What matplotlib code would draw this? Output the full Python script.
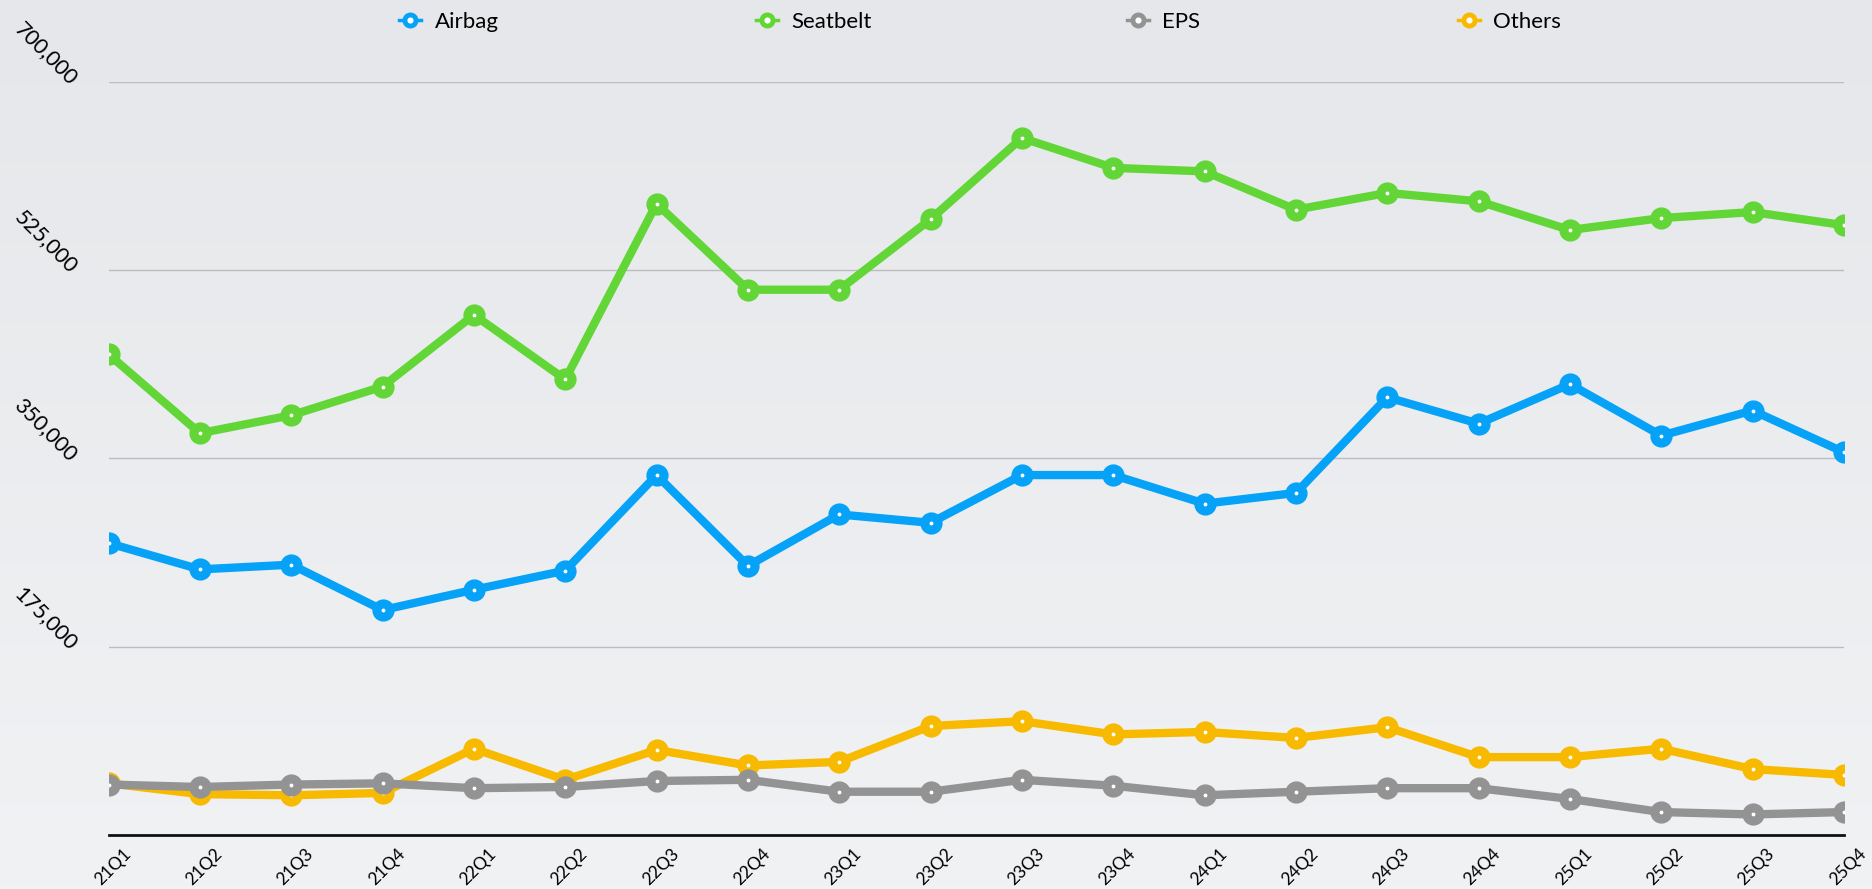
import numpy as np
import matplotlib.pyplot as plt
from matplotlib.lines import Line2D
from matplotlib.colors import LinearSegmentedColormap
from matplotlib.transforms import ScaledTranslation

plt.rcParams['font.family'] = ['Lato', 'DejaVu Sans']

quarters = ['21Q1', '21Q2', '21Q3', '21Q4', '22Q1', '22Q2', '22Q3', '22Q4',
            '23Q1', '23Q2', '23Q3', '23Q4', '24Q1', '24Q2', '24Q3', '24Q4',
            '25Q1', '25Q2', '25Q3', '25Q4']

airbag = [271100, 246700, 251100, 208900, 227800, 245600, 334400, 250000,
          297800, 290000, 334400, 334400, 307800, 317800, 406700, 382200,
          418900, 371100, 394400, 355600]
seatbelt = [446700, 373300, 390000, 416700, 483300, 423300, 586700, 506700,
            506700, 572200, 647800, 620000, 616700, 581100, 596700, 588900,
            562200, 573300, 578900, 566700]
eps = [46700, 44400, 46700, 47800, 43300, 44400, 50000, 51100,
       40000, 40000, 51100, 45600, 36700, 40000, 43300, 43300,
       33300, 21100, 18900, 21100]
others = [47800, 37800, 36700, 38900, 80000, 51100, 78900, 64400,
          67800, 101100, 105600, 93300, 95600, 90000, 100000, 72200,
          72200, 80000, 61100, 55600]

yticks = [175000, 350000, 525000, 700000]

series = [('Airbag', airbag, '#06a2f8', 4),
          ('Seatbelt', seatbelt, '#62d637', 4),
          ('EPS', eps, '#939393', 3),
          ('Others', others, '#f8ba00', 2)]

fig = plt.figure(figsize=(18.72, 8.89), dpi=100)

# soft grey gradient background
bg = fig.add_axes([0, 0, 1, 1], zorder=-10)
grad = np.linspace(0, 1, 256).reshape(-1, 1)
bg.imshow(grad, aspect='auto', extent=[0, 1, 0, 1],
          cmap=LinearSegmentedColormap.from_list('bg', ['#e6e7ea', '#f1f2f4']))
bg.axis('off')

ax = fig.add_axes([0.058, 0.061, 0.927, 0.847])
ax.set_facecolor('none')

x = np.arange(len(quarters))
for name, vals, col, z in series:
    ax.plot(x, vals, color=col, linewidth=6, marker='o', markersize=9.5,
            markeredgewidth=6.5, markerfacecolor='white', markeredgecolor=col,
            zorder=z, solid_joinstyle='round')

ax.set_xlim(0, len(quarters) - 1)
ax.set_ylim(0, 700000)
ax.tick_params(axis='y', length=0, pad=25)
ax.tick_params(axis='x', length=0, pad=8)
ax.set_yticks(yticks)
ax.set_yticklabels([f'{v:,}' for v in yticks], rotation=-45, ha='right',
                   va='center', rotation_mode='anchor', fontsize=15.5)
ax.set_xticks(x)
ax.set_xticklabels(quarters, rotation=45, ha='right', va='top',
                   rotation_mode='anchor', fontsize=12.5)
# nudge the slanted quarter labels so they sit just right of each tick
shift = ScaledTranslation(14 / 100, 0, fig.dpi_scale_trans)
for lab in ax.get_xticklabels():
    lab.set_transform(lab.get_transform() + shift)
ax.yaxis.grid(True, color='#bcbcbc', linewidth=1)
ax.set_axisbelow(True)
for s in ['top', 'right', 'left']:
    ax.spines[s].set_visible(False)
ax.spines['bottom'].set_linewidth(2)
ax.spines['bottom'].set_color('#111111')

# legend entries across the top
legend_x = [0.2131, 0.4038, 0.6020, 0.7788]
for (name, vals, col, z), lx in zip(series, legend_x):
    h = Line2D([], [], color=col, linewidth=2.5, marker='o', markersize=8,
               markerfacecolor='white', markeredgewidth=3.5, markeredgecolor=col)
    fig.legend([h], [name], loc='center left', bbox_to_anchor=(lx, 0.975),
               frameon=False, handlelength=1.0, handletextpad=0.6, fontsize=16,
               borderpad=0, borderaxespad=0)

plt.savefig('out.png', dpi=100)
